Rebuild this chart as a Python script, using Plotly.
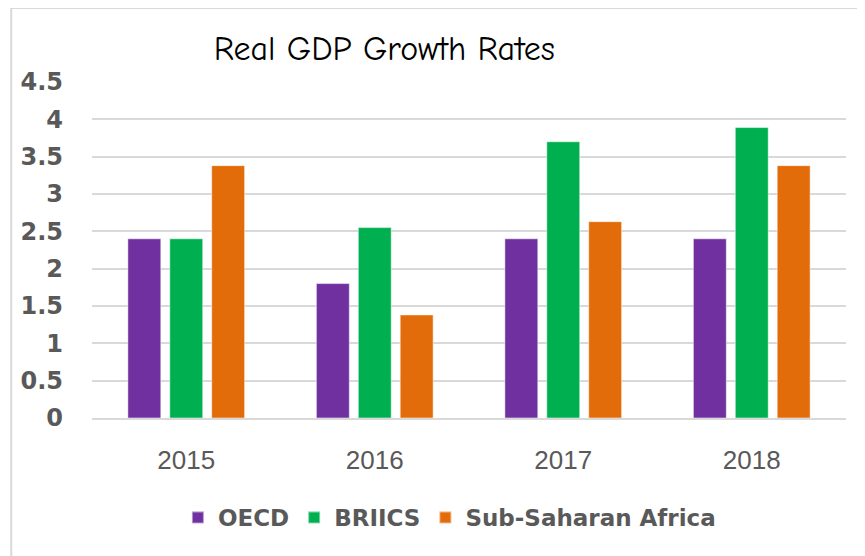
import plotly.graph_objects as go

years = ["2015", "2016", "2017", "2018"]
oecd = [2.4, 1.8, 2.4, 2.4]
briics = [2.4, 2.55, 3.7, 3.89]
ssa = [3.38, 1.38, 2.63, 3.38]
series_names = ["OECD", "BRIICS", "Sub-Saharan Africa"]
colors = ["#7030A0", "#00B050", "#E36C0A"]
y_ticks = [0, 0.5, 1, 1.5, 2, 2.5, 3, 3.5, 4, 4.5]
y_tick_text = ["0", "0.5", "1", "1.5", "2", "2.5", "3", "3.5", "4", "4.5"]

comic = "Comic Sans MS, Comic Neue, Lato, DejaVu Sans, sans-serif"
boldfam = "DejaVu Sans, Verdana, sans-serif"

W, H = 865, 556
L, R, T, B = 82, 27, 74, 146
ph = H - T - B
pw = W - L - R

fig = go.Figure()
for name, vals, col in zip(series_names, [oecd, briics, ssa], colors):
    fig.add_trace(go.Bar(
        x=years, y=vals, name=name,
        marker=dict(color=col, line=dict(color="rgba(255,255,255,0.5)", width=1)),
    ))

fig.update_layout(
    width=W, height=H,
    paper_bgcolor="white", plot_bgcolor="white",
    margin=dict(l=L, r=R, t=T, b=B),
    barmode="group", bargap=0.333, bargroupgap=0.214,
    title=dict(text="Real GDP Growth Rates", x=0.435, xanchor="center",
               y=0.928, yanchor="middle", yref="container",
               font=dict(family=comic, size=34, color="#000000")),
    xaxis=dict(tickfont=dict(family="Liberation Sans, Arial, sans-serif", size=26, color="#595959"),
               showline=True, linecolor="#d9d9d9", linewidth=2, ticks="", ticklabelstandoff=18),
    yaxis=dict(range=[0, 4.5], tickvals=y_ticks, ticktext=y_tick_text,
               tickfont=dict(family=boldfam, size=24, color="#595959", weight="bold"),
               showgrid=True, gridcolor="#d9d9d9", gridwidth=2, zeroline=False,
               ticklabelstandoff=28),
    legend=dict(orientation="h", x=0.474, xanchor="center", y=-0.296, yanchor="middle",
                font=dict(family=boldfam, size=23, color="#595959", weight="bold"),
                itemwidth=30, tracegroupgap=0, itemsizing="constant"),
    shapes=[dict(type="rect", xref="paper", yref="paper",
                 x0=(1 - L) / pw, x1=(W + 20 - L) / pw,
                 y0=-(H + 20 - (H - B)) / ph, y1=(H - B) / ph,
                 line=dict(color="#d9d9d9", width=2), fillcolor="rgba(0,0,0,0)", layer="below")],
)

fig.write_html("out.html")
